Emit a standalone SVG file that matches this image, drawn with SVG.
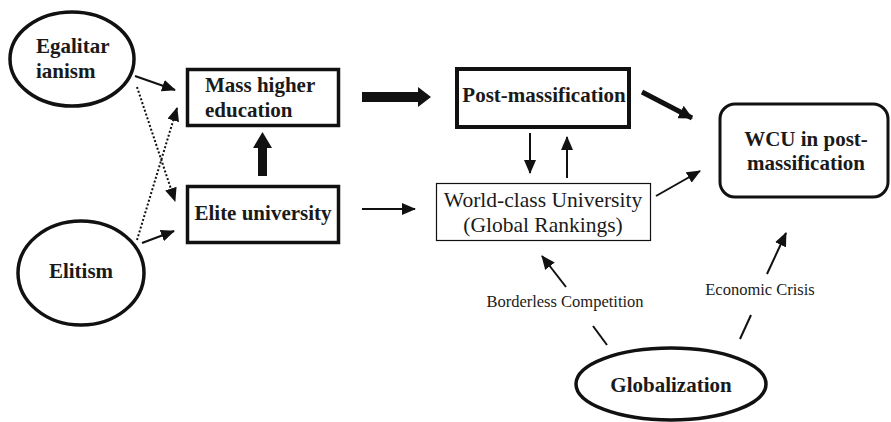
<svg xmlns="http://www.w3.org/2000/svg" width="891" height="422" viewBox="0 0 891 422">
<style>
text{font-family:'Liberation Serif','Times New Roman',serif}
.bold{font-weight:bold;font-size:21px;fill:#1a1a1a}
.reg{font-size:21.5px;fill:#1a1a1a}
.lab{font-size:16.5px;fill:#1a1a1a}
.node{fill:#fff;stroke:#111}
.ln{stroke:#111;stroke-width:2;fill:none}
.dot{stroke:#111;stroke-width:2;fill:none;stroke-dasharray:2 2}
</style>
<defs>
<marker id="ah" markerUnits="userSpaceOnUse" markerWidth="14" markerHeight="12" refX="13" refY="6" orient="auto">
<path d="M0,0 L14,6 L0,12 Z" fill="#111"/>
</marker>
<marker id="ahb" markerUnits="userSpaceOnUse" markerWidth="14" markerHeight="14" refX="13" refY="7" orient="auto">
<path d="M0,0 L14,7 L0,14 Z" fill="#111"/>
</marker>
</defs>
<rect width="891" height="422" fill="#fff"/>
<g id="egalitarianism">
<ellipse class="node" cx="72" cy="59" rx="62" ry="47" stroke-width="3.5"/>
<text class="bold" x="36" y="53" font-family="Liberation Serif">Egalitar</text>
<text class="bold" x="36" y="78" font-family="Liberation Serif">ianism</text>
</g>
<g id="elitism">
<ellipse class="node" cx="81" cy="273" rx="63" ry="52" stroke-width="3.5"/>
<text class="bold" x="81" y="278" text-anchor="middle" font-family="Liberation Serif">Elitism</text>
</g>
<g id="mass">
<rect class="node" x="187.5" y="69.5" width="151" height="56" stroke-width="3.5"/>
<text class="bold" x="205" y="92" font-family="Liberation Serif">Mass higher</text>
<text class="bold" x="205" y="117" font-family="Liberation Serif">education</text>
</g>
<g id="elite">
<rect class="node" x="187.5" y="186.5" width="151" height="56" stroke-width="3.5"/>
<text class="bold" x="263" y="220" text-anchor="middle" font-family="Liberation Serif">Elite university</text>
</g>
<g id="post">
<rect class="node" x="457" y="69" width="172" height="58" stroke-width="4"/>
<text class="bold" x="544" y="102" text-anchor="middle" font-family="Liberation Serif">Post-massification</text>
</g>
<g id="wcu-rank">
<rect class="node" x="436.5" y="183.5" width="214" height="57" stroke-width="1.2"/>
<text class="reg" x="543" y="207" text-anchor="middle" font-family="Liberation Serif">World-class University</text>
<text class="reg" x="543" y="232" text-anchor="middle" font-family="Liberation Serif">(Global Rankings)</text>
</g>
<g id="wcu-post">
<rect class="node" x="720" y="104" width="168" height="93" rx="15" stroke-width="3"/>
<text class="bold" x="806" y="146" text-anchor="middle" font-family="Liberation Serif">WCU in post-</text>
<text class="bold" x="806" y="170" text-anchor="middle" font-family="Liberation Serif">massification</text>
</g>
<g id="globalization">
<ellipse class="node" cx="671" cy="384" rx="95" ry="36" stroke-width="3.5"/>
<text class="bold" x="671" y="392" text-anchor="middle" font-family="Liberation Serif">Globalization</text>
</g>
<g id="labels">
<text class="lab" x="565" y="307" text-anchor="middle" font-family="Liberation Serif">Borderless Competition</text>
<text class="lab" x="760" y="295" text-anchor="middle" font-family="Liberation Serif">Economic Crisis</text>
</g>
<g id="connectors">
<line class="ln" x1="135" y1="76" x2="175" y2="90" marker-end="url(#ah)"/>
<line class="dot" x1="137" y1="87" x2="175" y2="201" marker-end="url(#ah)"/>
<line class="dot" x1="137" y1="240" x2="177" y2="108" marker-end="url(#ah)"/>
<line class="ln" x1="142" y1="243" x2="174" y2="231" marker-end="url(#ah)"/>
<polygon points="258,176 267,176 267,148 272,148 262.5,132 253,148 258,148" fill="#111"/>
<polygon points="362,92 418,92 418,87 431,97 418,107 418,102 362,102" fill="#111"/>
<line x1="642" y1="92" x2="692" y2="118" stroke="#111" stroke-width="5" marker-end="url(#ahb)"/>
<line class="ln" x1="530" y1="133" x2="530" y2="173" stroke-width="1.5" marker-end="url(#ah)"/>
<line class="ln" x1="567" y1="178" x2="567" y2="137" stroke-width="1.5" marker-end="url(#ah)"/>
<line class="ln" x1="362" y1="209" x2="415" y2="209" marker-end="url(#ah)"/>
<line class="ln" x1="656" y1="196" x2="700" y2="171" marker-end="url(#ah)"/>
<line class="ln" x1="607" y1="345" x2="593" y2="326"/>
<line class="ln" x1="566" y1="287" x2="542" y2="256" marker-end="url(#ah)"/>
<line class="ln" x1="740" y1="339" x2="751" y2="315"/>
<line class="ln" x1="767" y1="274" x2="786" y2="233" marker-end="url(#ah)"/>
</g>
</svg>
